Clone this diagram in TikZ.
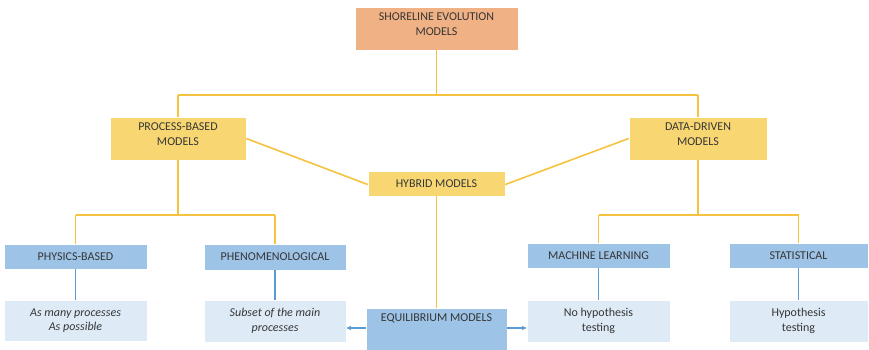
\documentclass[tikz,border=0pt]{standalone}
\usepackage{fontspec}
\setmainfont{Carlito}
\usetikzlibrary{arrows.meta}
\definecolor{salmon}{HTML}{F0B185}
\definecolor{ylw}{HTML}{F8D773}
\definecolor{ylwline}{HTML}{F5C33F}
\definecolor{blu}{HTML}{9DC3E6}
\definecolor{lblu}{HTML}{DEEBF7}
\definecolor{bluline}{HTML}{5B9BD5}
\definecolor{txt}{HTML}{363636}
\tikzset{
  plain/.style={inner sep=0pt, align=center, text=txt,
    font=\fontsize{12}{14.5}\selectfont},
  box/.style={plain, draw=white, line width=0.6pt},
  topbox/.style={box, fill=salmon},
  ybox/.style={box, fill=ylw},
  bbox/.style={box, fill=blu},
  lbox/.style={box, fill=lblu, font=\fontsize{12}{14.5}\selectfont\itshape},
  lbox2/.style={box, fill=lblu},
  yl/.style={draw=ylwline, line width=1.6pt},
  bl/.style={draw=bluline, line width=1.5pt},
  ba/.style={bl, -{Stealth[length=5pt,width=4.5pt]}}
}
\newcommand{\liftend}{\\[-6pt]\mbox{}}
\begin{document}
\begin{tikzpicture}[x=1pt,y=-1pt]
\useasboundingbox (0,0) rectangle (869,350);
% top
\node[topbox, minimum width=163pt, minimum height=43pt] (shore) at (436.5,28.5) {SHORELINE EVOLUTION\\MODELS\liftend};
\node[ybox, minimum width=136pt, minimum height=43pt] (proc) at (178,138.5) {PROCESS-BASED\\MODELS\liftend};
\node[ybox, minimum width=138pt, minimum height=43pt] (data) at (698,138.5) {DATA-DRIVEN\\MODELS\liftend};
\node[ybox, minimum width=137pt, minimum height=25pt] (hyb) at (436.5,183.5) {HYBRID MODELS};
% mid blue
\node[bbox, minimum width=143pt, minimum height=25pt] (phys) at (75.5,256.5) {PHYSICS-BASED};
\node[bbox, minimum width=142pt, minimum height=26pt] (phen) at (275,257) {PHENOMENOLOGICAL};
\node[bbox, minimum width=143pt, minimum height=25pt] (ml) at (598.5,255.5) {MACHINE LEARNING};
\node[bbox, minimum width=139pt, minimum height=25pt] (stat) at (798.5,255.5) {STATISTICAL};
% light boxes
\node[lbox, minimum width=143pt, minimum height=41pt] (physd) at (75.5,320.5) {As many processes\\As possible};
\node[lbox, minimum width=142pt, minimum height=42pt] (phend) at (275,321) {Subset of the main\\processes};
\node[lbox2, minimum width=143pt, minimum height=42pt] (mld) at (598.5,321) {No hypothesis\\testing};
\node[lbox2, minimum width=139pt, minimum height=42pt] (statd) at (798.5,321) {Hypothesis\\testing};
% equilibrium
\node[bbox, minimum width=141pt, minimum height=50pt] (eq) at (436.5,333) {};
\node[plain, anchor=north] (eqt) at ([yshift=-6pt]eq.north) {EQUILIBRIUM MODELS};
% coordinates
\coordinate (j1) at (436.5,95);
\coordinate (j1l) at (178,95);
\coordinate (j1r) at (698,95);
\coordinate (j2) at (178,215);
\coordinate (j2l) at (75.5,215);
\coordinate (j2r) at (275,215);
\coordinate (j3) at (698,215);
\coordinate (j3l) at (598.5,215);
\coordinate (j3r) at (798.5,215);
% yellow connectors
\draw[yl] (shore.south) -- (j1);
\draw[yl] (j1l) -- (j1r);
\draw[yl] (j1l) -- (proc.north);
\draw[yl] (j1r) -- (data.north);
\draw[yl] (proc.east) -- ([yshift=-1pt]hyb.west);
\draw[yl] (data.west) -- ([yshift=-1pt]hyb.east);
\draw[yl] (hyb.south) -- (eq.north);
\draw[yl] (proc.south) -- (j2);
\draw[yl] (j2l) -- (j2r);
\draw[yl] (j2l) -- (phys.north);
\draw[yl] (j2r) -- (phen.north);
\draw[yl] (data.south) -- (j3);
\draw[yl] (j3l) -- (j3r);
\draw[yl] (j3l) -- (ml.north);
\draw[yl] (j3r) -- (stat.north);
% blue connectors
\draw[bl] (phys.south) -- (physd.north);
\draw[bl] (phen.south) -- (phend.north);
\draw[bl] (ml.south) -- (mld.north);
\draw[bl] (stat.south) -- (statd.north);
\draw[ba] (eq.west |- 0,328) -- (phend.east |- 0,328);
\draw[ba] (eq.east |- 0,328) -- (mld.west |- 0,328);
\end{tikzpicture}
\end{document}
